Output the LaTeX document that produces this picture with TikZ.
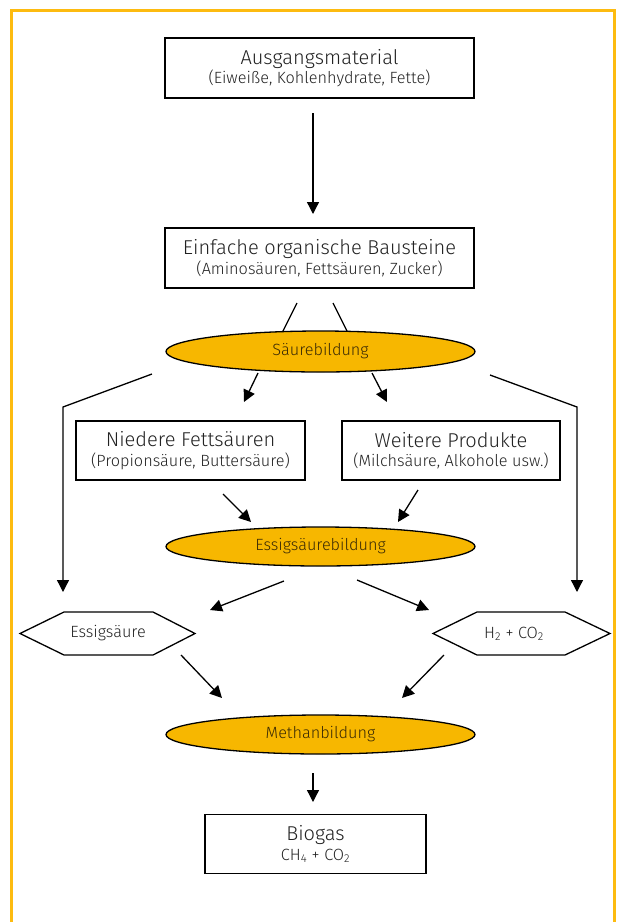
\documentclass[tikz,border=0pt]{standalone}
\usepackage{fontspec}
\IfFontExistsTF{Fira Sans Book}{\setmainfont{Fira Sans Book}}{\IfFontExistsTF{Fira Sans Light}{\setmainfont{Fira Sans Light}}{\setmainfont{Fira Sans}}}
\usetikzlibrary{shapes.geometric,arrows.meta}
\definecolor{frameorange}{HTML}{FDBB10}
\definecolor{ellfill}{HTML}{F7B700}
\definecolor{elltext}{HTML}{3A2A05}
\definecolor{txt}{HTML}{222222}
\newlength\tmpw
\newcommand{\ttl}[1]{{\fontsize{\tsz}{\tsz}\selectfont #1}}
\newcommand{\sml}{\fontsize{\ssz}{19.5}\selectfont}
\tikzset{
  box/.style={draw=black, line width=1.4pt, inner sep=0pt, align=center, text=txt,
    font=\sml},
  proc/.style={ellipse, draw=black, fill=ellfill, line width=1.3pt, inner sep=0pt,
    text=elltext, font=\sml},
  hexbox/.style={draw=black, line width=1.3pt},
  hextext/.style={text=txt, font=\sml},
  arr/.style={line width=1.3pt, -{Triangle[length=12pt,width=12pt]}},
  plain/.style={line width=1.3pt}
}
\begin{document}
\settowidth\tmpw{\fontsize{20}{20}\selectfont Ausgangsmaterial}%
\pgfmathsetmacro\tsz{20*158/\tmpw}%
\settowidth\tmpw{\fontsize{16}{16}\selectfont (Eiweiße, Kohlenhydrate, Fette)}%
\pgfmathsetmacro\ssz{16*222/\tmpw}%
\begin{tikzpicture}[x=1pt,y=-1pt]
\useasboundingbox (0,0) rectangle (617,922);
% frame
\draw[frameorange, line width=2.8pt] (11.5,930) -- (11.5,10.5) -- (614.5,10.5) -- (614.5,930);

% boxes
\node[box, minimum width=309pt, minimum height=60pt] (aus) at (319.5,68)
  {\ttl{Ausgangsmaterial}\\(Eiweiße, Kohlenhydrate, Fette)};
\node[box, minimum width=309pt, minimum height=60pt] (bau) at (319.5,258)
  {\ttl{Einfache organische Bausteine}\\(Aminosäuren, Fettsäuren, Zucker)};
\node[proc, minimum width=309pt, minimum height=41pt] (sb) at (320.5,351.5) {Säurebildung};
\node[box, minimum width=229pt, minimum height=59pt] (nf) at (190.5,450.5)
  {\ttl{Niedere Fettsäuren}\\(Propionsäure, Buttersäure)};
\node[box, minimum width=218pt, minimum height=59pt] (wp) at (451,450.5)
  {\ttl{Weitere Produkte}\\(Milchsäure, Alkohole usw.)};
\node[proc, minimum width=309pt, minimum height=39pt] (esb) at (320.5,546.5) {Essigsäurebildung};
\node[proc, minimum width=309pt, minimum height=39pt] (mb) at (320.5,734.5) {Methanbildung};
\node[box, minimum width=221pt, minimum height=59pt] (bio) at (315.5,844)
  {\ttl{Biogas}\\CH\textsubscript{4} + CO\textsubscript{2}};

% hexagons
\draw[hexbox] (20,633.5) -- (64,612) -- (153,612) -- (195,633.5) -- (153,655) -- (64,655) -- cycle;
\node[hextext] (es) at (108,633.5) {Essigsäure};
\draw[hexbox] (433,633.5) -- (477,612) -- (565,612) -- (610,633.5) -- (565,655) -- (477,655) -- cycle;
\node[hextext] (hc) at (514,634) {H\textsubscript{2} + CO\textsubscript{2}};

% connector coordinates
\coordinate (a1s) at (313,113); \coordinate (a1e) at (313,214);
\coordinate (l1s) at (297,303); \coordinate (l1e) at (283,331);
\coordinate (l2s) at (333,303); \coordinate (l2e) at (347,331);
\coordinate (a2s) at (258,373); \coordinate (a2e) at (244,402);
\coordinate (a3s) at (372,373); \coordinate (a3e) at (387,402);
\coordinate (p1s) at (152,374); \coordinate (p1m) at (63,407); \coordinate (p1e) at (63,592);
\coordinate (p2s) at (490,375); \coordinate (p2m) at (577,407); \coordinate (p2e) at (577,592);
\coordinate (a4s) at (223,494); \coordinate (a4e) at (251,522);
\coordinate (a5s) at (418,490); \coordinate (a5e) at (398,522);
\coordinate (a6s) at (284,581); \coordinate (a6e) at (210,610);
\coordinate (a7s) at (357,580); \coordinate (a7e) at (429,610);
\coordinate (a8s) at (181,655); \coordinate (a8e) at (222,698);
\coordinate (a9s) at (444,655); \coordinate (a9e) at (402,698);
\coordinate (a10s) at (313,773); \coordinate (a10e) at (313,802);

\draw[arr] (a1s) -- (a1e);
\draw[plain] (l1s) -- (l1e);
\draw[plain] (l2s) -- (l2e);
\draw[arr] (a2s) -- (a2e);
\draw[arr] (a3s) -- (a3e);
\draw[arr] (p1s) -- (p1m) -- (p1e);
\draw[arr] (p2s) -- (p2m) -- (p2e);
\draw[arr] (a4s) -- (a4e);
\draw[arr] (a5s) -- (a5e);
\draw[arr] (a6s) -- (a6e);
\draw[arr] (a7s) -- (a7e);
\draw[arr] (a8s) -- (a8e);
\draw[arr] (a9s) -- (a9e);
\draw[arr] (a10s) -- (a10e);
\end{tikzpicture}
\end{document}
